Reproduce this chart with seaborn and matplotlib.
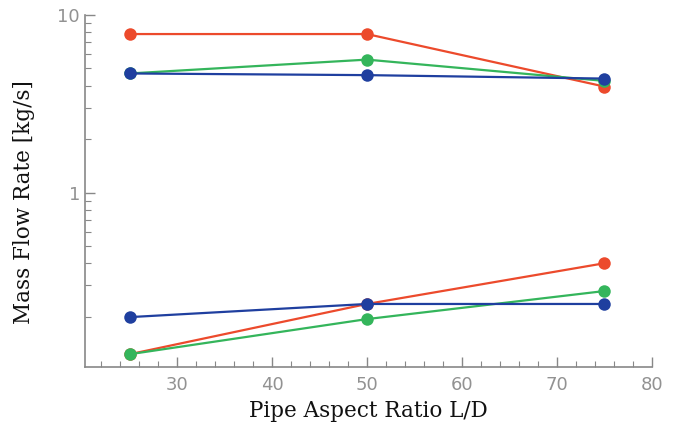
import numpy as np
import pandas as pd
import matplotlib
matplotlib.use("Agg")
import matplotlib.pyplot as plt
import seaborn as sns
from matplotlib.ticker import LogLocator, NullFormatter, FixedLocator, FixedFormatter, MultipleLocator

# Pipe aspect ratios
aspect_ratio = [25, 50, 75]

# mass flow rates [kg/s], upper group
red_high = [7.8, 7.8, 3.95]
green_high = [4.68, 5.6, 4.25]
blue_high = [4.68, 4.58, 4.38]

# lower group
red_low = [0.123, 0.236, 0.40]
green_low = [0.123, 0.194, 0.279]
blue_low = [0.199, 0.236, 0.236]

colors = {"red": "#EC4A2C", "green": "#34B55B", "blue": "#1F3F9F"}

series = [
    ("red", red_high), ("green", green_high), ("blue", blue_high),
    ("red", red_low), ("green", green_low), ("blue", blue_low),
]

sns.set_style("ticks")

fig = plt.figure(figsize=(6.79, 4.25), dpi=100)
ax = fig.add_axes([0.125, 0.136, 0.835, 0.829])

for name, vals in series:
    df = pd.DataFrame({"L/D": aspect_ratio, "flow": vals})
    sns.lineplot(data=df, x="L/D", y="flow", ax=ax, color=colors[name],
                 marker="o", markersize=9, markeredgewidth=0, linewidth=1.6)

ax.set_yscale("log")
ax.set_ylim(0.104, 10)
ax.set_xlim(20.3, 80)

ax.yaxis.set_major_locator(FixedLocator([1, 10]))
ax.yaxis.set_major_formatter(FixedFormatter(["1", "10"]))
ax.yaxis.set_minor_locator(LogLocator(base=10, subs=np.arange(2, 10)))
ax.yaxis.set_minor_formatter(NullFormatter())

ax.xaxis.set_major_locator(FixedLocator([30, 40, 50, 60, 70, 80]))
ax.xaxis.set_minor_locator(MultipleLocator(2))

ax.tick_params(which="both", direction="in", color="#888888", labelcolor="#929292",
               labelsize=13)
ax.tick_params(which="major", length=7, width=1)
ax.tick_params(which="minor", length=4, width=0.8)
ax.tick_params(axis="x", which="major", pad=6)

for side in ["top", "right"]:
    ax.spines[side].set_visible(False)
for side in ["left", "bottom"]:
    ax.spines[side].set_color("#888888")
    ax.spines[side].set_linewidth(1.2)

ax.set_xlabel("Pipe Aspect Ratio L/D", family="DejaVu Serif", fontsize=15.5,
              color="#111111", labelpad=5)
ax.set_ylabel("Mass Flow Rate [kg/s]", family="DejaVu Serif", fontsize=15.5,
              color="#111111", labelpad=16)
ax.yaxis.label.set_y(0.47)

fig.savefig("out.png", dpi=100)
